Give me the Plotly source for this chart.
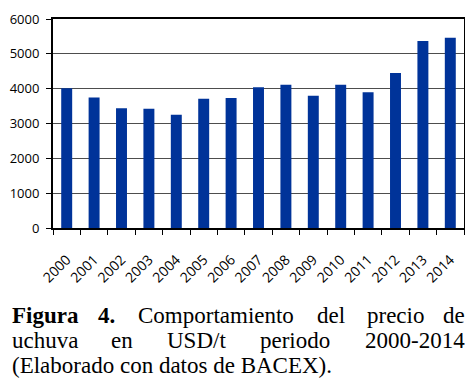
import plotly.graph_objects as go

years = ["2000", "2001", "2002", "2003", "2004", "2005", "2006", "2007",
         "2008", "2009", "2010", "2011", "2012", "2013", "2014"]
price_usd_t = [4010, 3750, 3440, 3420, 3250, 3710, 3730, 4040,
               4110, 3795, 4110, 3900, 4450, 5370, 5465]
y_ticks = [0, 1000, 2000, 3000, 4000, 5000, 6000]

# page body has an 8px default margin, so the figure is drawn 8px smaller
OFF = 8
W, H = 473 - OFF, 388 - OFF
ML, MT = 53 - OFF, 19 - OFF
PR, PB = 464 - OFF, 228 - OFF
MR, MB = W - PR, H - PB
PW = PR - ML
PH = PB - MT

fig = go.Figure(go.Bar(
    x=years, y=price_usd_t,
    marker=dict(color="#003399", line=dict(width=0)),
))

y_font = dict(family="Open Sans", size=13, color="black")
x_font = dict(family="Open Sans", size=14, color="black")
fig.update_layout(
    width=W, height=H,
    margin=dict(l=ML, r=MR, t=MT, b=MB, autoexpand=False),
    paper_bgcolor="white", plot_bgcolor="white",
    bargap=0.6, showlegend=False,
    xaxis=dict(
        type="category", tickangle=-45, tickfont=x_font,
        ticks="outside", ticklen=5, tickcolor="black", tickson="boundaries",
        ticklabelstandoff=16,
        showline=True, linecolor="black", linewidth=2, mirror=True,
        showgrid=False, automargin=False,
    ),
    yaxis=dict(
        range=[0, 6000], tickvals=y_ticks, tickfont=y_font,
        ticks="outside", ticklen=5, tickcolor="black", ticklabelstandoff=4,
        showline=True, linecolor="black", linewidth=2, mirror=True,
        showgrid=True, gridcolor="#4d4d4d", gridwidth=1, zeroline=False,
        automargin=False,
    ),
)


def px2paper_x(px):
    return (px - OFF - ML) / PW


def px2paper_y(py):
    return (PB - (py - OFF)) / PH


serif = dict(family="Liberation Serif", size=23, color="black")

# caption words (justified lines): (text, reference pixel x, anchor)
line1 = [("<b>Figura</b>", 10, "left"), ("<b>4.</b>", 106, "center"),
         ("Comportamiento", 216, "center"), ("del", 331, "center"),
         ("precio", 395, "center"), ("de", 467, "right")]
line2 = [("uchuva", 10, "left"), ("en", 122, "center"),
         ("USD/t", 196, "center"), ("periodo", 295, "center"),
         ("2000-2014", 467, "right")]
line3 = [("(Elaborado con datos de BACEX).", 10, "left")]

for words, ycen in [(line1, 315), (line2, 340), (line3, 365)]:
    for txt, xp, anc in words:
        fig.add_annotation(
            text=txt, x=px2paper_x(xp), y=px2paper_y(ycen),
            xref="paper", yref="paper", xanchor=anc, yanchor="middle",
            showarrow=False, font=serif,
        )

fig.write_html("out.html")
